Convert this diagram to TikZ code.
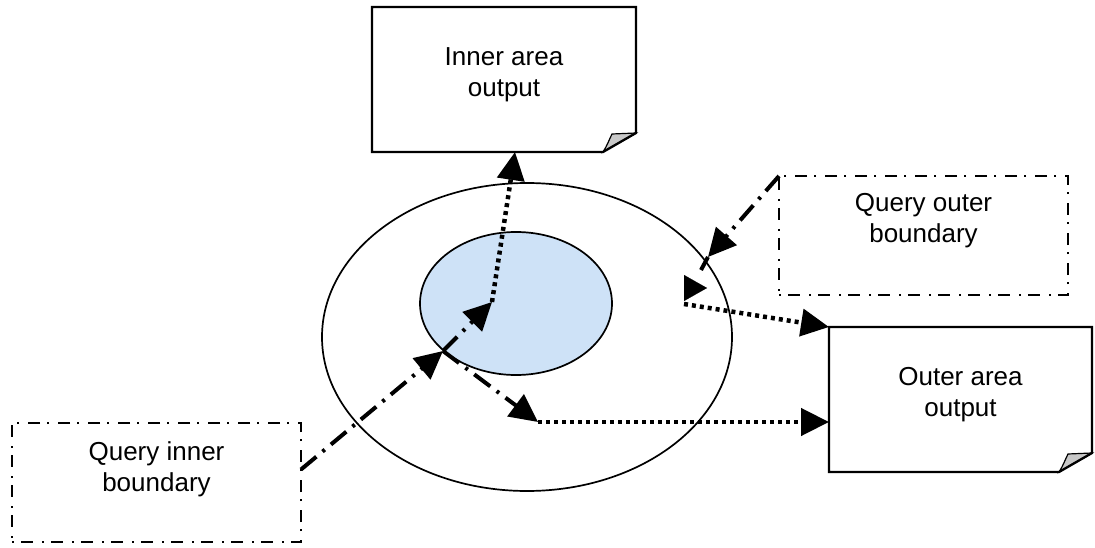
\documentclass[tikz,border=0pt]{standalone}
\usepackage{fontspec}
\setmainfont{Liberation Sans}
\usetikzlibrary{arrows.meta,shapes.geometric}
\definecolor{innerfill}{RGB}{206,226,247}
\definecolor{foldgray}{RGB}{200,200,200}
\begin{document}
\begin{tikzpicture}[x=1pt,y=-1pt,
  boxframe/.style={draw=none,rectangle,inner sep=0pt,outer sep=0pt},
  lbl/.style={align=center,inner sep=0pt,font=\fontsize{26}{30.5}\selectfont},
  docline/.style={line width=2.3pt,line join=miter},
  dashbox/.style={draw,line width=2.3pt,dash pattern=on 2pt off 7pt on 12pt off 9pt},
  dashdotline/.style={line width=4pt,dash pattern=on 20pt off 8pt on 3pt off 8pt},
  dotline/.style={line width=4.5pt,dash pattern=on 4pt off 4pt},
  arrowtip/.style={-{Triangle[length=28pt,width=27pt]}},
  ell/.style={ellipse,draw,line width=1.7pt,inner sep=0pt,outer sep=0pt},
]
\useasboundingbox (0,0) rectangle (1095,548);

% ellipses
\node[ell,minimum width=410pt,minimum height=308pt] (outerell) at (527,337) {};
\node[ell,fill=innerfill,minimum width=192pt,minimum height=143pt] (innerell) at (516,303.5) {};

% output document boxes
\node[boxframe,minimum width=264pt,minimum height=145pt] (inb) at (504,79.5) {};
\node[boxframe,minimum width=263pt,minimum height=145pt] (outb) at (960.5,399.5) {};
\foreach \b in {inb,outb}{
  \fill[foldgray,draw=black,line width=1.2pt]
    ([yshift=19pt]\b.south east) -- ([xshift=-24pt,yshift=18pt]\b.south east)
    .. controls ([xshift=-27pt,yshift=12pt]\b.south east) and ([xshift=-29pt,yshift=6pt]\b.south east) ..
    ([xshift=-33pt]\b.south east) -- cycle;
  \draw[docline] (\b.north west) -- (\b.north east) -- ([yshift=19pt]\b.south east)
    -- ([xshift=-33pt]\b.south east) -- (\b.south west) -- cycle;
}
\node[lbl] (inbT) at ([yshift=4.5pt]inb.center) {Inner area\\output};
\node[lbl] (outbT) at ([yshift=5pt]outb.center) {Outer area\\output};

% query boxes
\node[boxframe,dashbox,minimum width=289pt,minimum height=119pt] (qout) at (923.5,235.5) {};
\node[lbl] (qoutT) at ([yshift=15pt]qout.center) {Query outer\\boundary};
\node[boxframe,dashbox,minimum width=289pt,minimum height=119pt] (qin) at (156.5,482.5) {};
\node[lbl] (qinT) at ([yshift=13pt]qin.center) {Query inner\\boundary};

% connector points
\coordinate (jIn) at (443,351);
\coordinate (cIn) at (492,302);
\coordinate (cLow) at (538,422);
\coordinate (jOut) at (708,257);
\coordinate (jOut2) at (701,270);
\coordinate (tOutA) at (684,288);
\coordinate (tOutB) at (707,288);
\coordinate (cOut) at (684,304);

% inner side connectors
\draw[dashdotline,arrowtip] ([yshift=13pt]qin.east) -- (jIn);
\draw[dashdotline,arrowtip] (jIn) -- (cIn);
\draw[dashdotline,arrowtip] (jIn) -- (cLow);
\draw[dotline,arrowtip] (cIn) -- ([xshift=11pt]inb.south);
\draw[dotline,arrowtip] (cLow) -- (outb.west |- cLow);

% outer side connectors
\draw[dashdotline,arrowtip] (qout.north west) -- (jOut);
\draw[dashdotline] (jOut) -- (jOut2);
\draw[line width=0.1pt,-{Triangle[length=23pt,width=26pt]}] (tOutA) -- (tOutB);
\draw[dotline,arrowtip] (cOut) -- (outb.north west);
\end{tikzpicture}
\end{document}
